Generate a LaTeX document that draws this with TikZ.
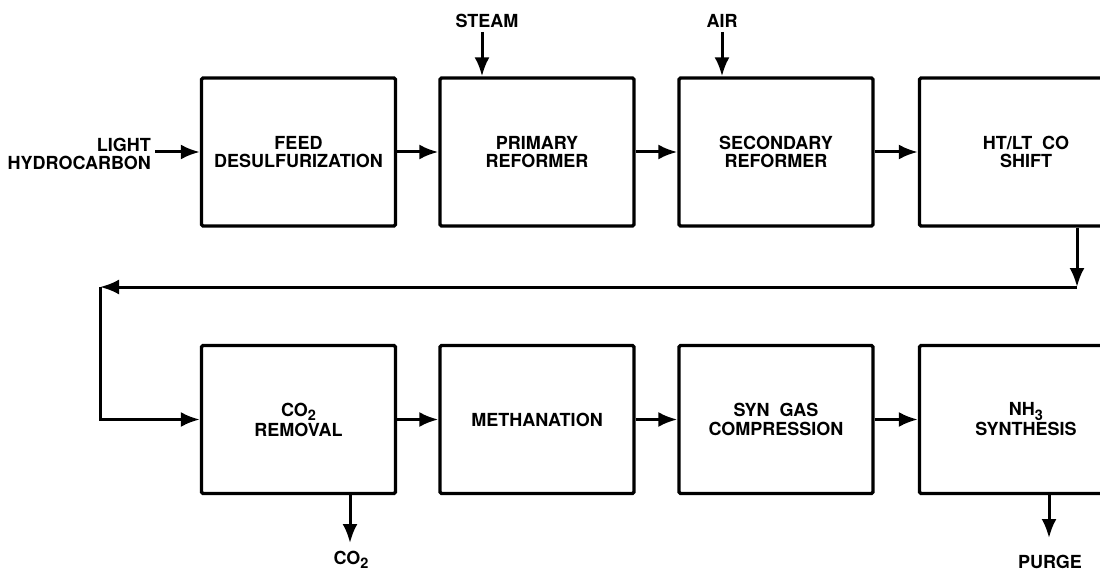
\documentclass[tikz,border=0pt]{standalone}
\usepackage{fontspec}
\setmainfont{TeX Gyre Heros}
\usetikzlibrary{arrows.meta}
\newcommand\lowsub[1]{\raisebox{-0.25em}{\fontsize{14.5}{14.5}\selectfont #1}}
\begin{document}
\begin{tikzpicture}[x=1pt,y=-1pt,
  blk/.style={draw, line width=3.4pt, rounded corners=1.5pt, minimum width=194pt, minimum height=148pt,
              align=center, font=\fontsize{18}{18.5}\selectfont\bfseries, inner sep=0pt},
  lbl/.style={font=\fontsize{18}{18.5}\selectfont\bfseries, align=center, inner sep=0pt},
  flow/.style={line width=3pt, -{Latex[length=19pt,width=15pt]}}]
\useasboundingbox (0,0) rectangle (1100,572);
\clip (0,0) rectangle (1100,572);
% top row
\node[blk] (feed) at (298.5,152) {FEED\\DESULFURIZATION};
\node[blk] (prim) at (537,152) {PRIMARY\\REFORMER};
\node[blk] (sec) at (776,152) {SECONDARY\\REFORMER};
\node[blk, minimum width=213pt] (shift) at (1026,152) {HT/LT\hspace{0.55em}CO\\SHIFT};
% bottom row
\node[blk] (co2r) at (298.5,419.5) {CO\lowsub{2}\\[1.5pt]REMOVAL};
\node[blk] (meth) at (537,419.5) {METHANATION};
\node[blk] (syn) at (776,419.5) {SYN\hspace{0.55em}GAS\\COMPRESSION};
\node[blk, minimum width=213pt] (nh3) at (1026,419.5) {NH\lowsub{3}\\[1.5pt]SYNTHESIS};
% labels
\node[lbl, align=right, anchor=east] (lh) at (151,154) {LIGHT\\HYDROCARBON};
\node[lbl] (steam) at (487,21) {STEAM};
\node[lbl] (air) at (722,21) {AIR};
\node[lbl] (co2l) at (351,560) {CO\lowsub{2}};
\node[lbl] (purge) at (1050,562) {PURGE};
% coordinates
\coordinate (lhs) at (155,152);
\coordinate (steams) at (482,32);
\coordinate (airs) at (722,32);
\coordinate (c1) at (1077,287);
\coordinate (c2) at (100,287);
\coordinate (c3) at (100,419.5);
\coordinate (co2end) at (350,543);
\coordinate (pend) at (1049,538);
% flows
\draw[flow] (lhs) -- (feed.west);
\draw[flow] (feed) -- (prim);
\draw[flow] (prim) -- (sec);
\draw[flow] (sec.east) -- (sec.east -| shift.west);
\draw[flow] (steams) -- (steams |- prim.north);
\draw[flow] (airs) -- (airs |- sec.north);
\draw[flow] (c1 |- shift.south) -- (c1);
\draw[flow] (c1) -- (c2);
\draw[flow] (c2) -- (c3) -- (co2r.west);
\draw[flow] (co2r) -- (meth);
\draw[flow] (meth) -- (syn);
\draw[flow] (syn.east) -- (syn.east -| nh3.west);
\draw[flow] (co2end |- co2r.south) -- (co2end);
\draw[flow] (pend |- nh3.south) -- (pend);
\end{tikzpicture}
\end{document}
